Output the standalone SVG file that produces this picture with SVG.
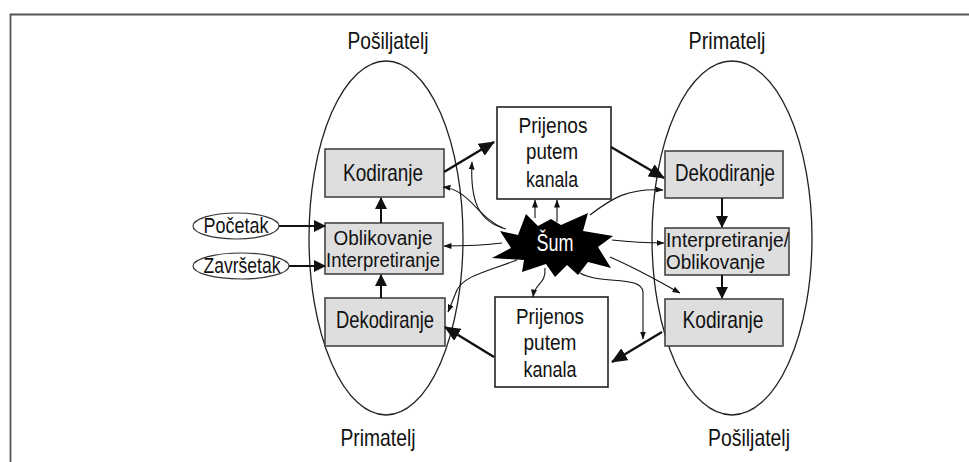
<svg xmlns="http://www.w3.org/2000/svg" width="969" height="462" viewBox="0 0 969 462">
<defs>
<style>
.t{font-family:"Liberation Sans Narrow","Arial Narrow","Liberation Sans",Arial,sans-serif;fill:#111;}
.box{fill:#dedede;stroke:#444;stroke-width:1.6;}
.wbox{fill:#fff;stroke:#222;stroke-width:1.6;}
.ell{fill:none;stroke:#222;stroke-width:1.3;}
.big{fill:none;stroke:#111;stroke-width:2.4;marker-end:url(#mb);}
.mid{fill:none;stroke:#111;stroke-width:2;marker-end:url(#mm);}
.thin{fill:none;stroke:#111;stroke-width:1.1;marker-end:url(#ms);}
</style>
<marker id="mb" viewBox="0 0 16 14" refX="15" refY="7" markerWidth="16" markerHeight="14" markerUnits="userSpaceOnUse" orient="auto"><path d="M0,0 L16,7 L0,14 z" fill="#111"/></marker>
<marker id="mm" viewBox="0 0 12 12" refX="11" refY="6" markerWidth="12" markerHeight="12" markerUnits="userSpaceOnUse" orient="auto"><path d="M0,0 L12,6 L0,12 z" fill="#111"/></marker>
<marker id="ms" viewBox="0 0 8 6" refX="7.5" refY="3" markerWidth="8" markerHeight="6" markerUnits="userSpaceOnUse" orient="auto"><path d="M0,0 L8,3 L0,6 z" fill="#111"/></marker>
</defs>
<rect width="969" height="462" fill="#fff"/>
<g id="frame" fill="none" stroke="#555" stroke-width="1.8">
<path d="M10.5,462 L10.5,14.5 L969,14.5"/>
</g>
<g id="sender-left">
<ellipse class="ell" cx="386" cy="238" rx="77" ry="177"/>
<text class="t" x="388" y="49" font-size="24" text-anchor="middle" textLength="81" lengthAdjust="spacingAndGlyphs">Pošiljatelj</text>
<text class="t" x="378" y="446" font-size="24" text-anchor="middle" textLength="75" lengthAdjust="spacingAndGlyphs">Primatelj</text>
</g>
<g id="receiver-right">
<ellipse class="ell" cx="732" cy="238" rx="80" ry="177"/>
<text class="t" x="727" y="49" font-size="24" text-anchor="middle" textLength="77" lengthAdjust="spacingAndGlyphs">Primatelj</text>
<text class="t" x="749" y="446" font-size="24" text-anchor="middle" textLength="82" lengthAdjust="spacingAndGlyphs">Pošiljatelj</text>
</g>
<g id="kodiranje-l">
<rect class="box" x="325" y="149" width="119" height="48"/>
<text class="t" x="383" y="181" font-size="24" text-anchor="middle" textLength="80" lengthAdjust="spacingAndGlyphs">Kodiranje</text>
</g>
<g id="oblikovanje-l">
<rect class="box" x="325" y="223" width="118" height="51"/>
<text class="t" x="383" y="245" font-size="20" text-anchor="middle" textLength="99" lengthAdjust="spacingAndGlyphs">Oblikovanje</text>
<text class="t" x="383" y="267" font-size="20" text-anchor="middle" textLength="114" lengthAdjust="spacingAndGlyphs">Interpretiranje</text>
</g>
<g id="dekodiranje-l">
<rect class="box" x="325" y="298" width="120" height="48"/>
<text class="t" x="385" y="328" font-size="24" text-anchor="middle" textLength="98" lengthAdjust="spacingAndGlyphs">Dekodiranje</text>
</g>
<g id="pocetak">
<ellipse cx="236" cy="226" rx="43" ry="13" fill="#fff" stroke="#333" stroke-width="1.2"/>
<text class="t" x="236" y="233" font-size="22" text-anchor="middle" textLength="65" lengthAdjust="spacingAndGlyphs">Početak</text>
</g>
<g id="zavrsetak">
<ellipse cx="241" cy="266" rx="48" ry="13" fill="#fff" stroke="#333" stroke-width="1.2"/>
<text class="t" x="242" y="273" font-size="22" text-anchor="middle" textLength="77" lengthAdjust="spacingAndGlyphs">Završetak</text>
</g>
<g id="prijenos-top">
<rect class="wbox" x="497" y="107" width="114" height="92"/>
<text class="t" x="553" y="133" font-size="22" text-anchor="middle" textLength="69" lengthAdjust="spacingAndGlyphs">Prijenos</text>
<text class="t" x="552" y="159" font-size="22" text-anchor="middle" textLength="52" lengthAdjust="spacingAndGlyphs">putem</text>
<text class="t" x="552" y="187" font-size="22" text-anchor="middle" textLength="52" lengthAdjust="spacingAndGlyphs">kanala</text>
</g>
<g id="prijenos-bottom">
<rect class="wbox" x="495" y="297" width="113" height="90"/>
<text class="t" x="550" y="324" font-size="22" text-anchor="middle" textLength="68" lengthAdjust="spacingAndGlyphs">Prijenos</text>
<text class="t" x="550" y="350" font-size="22" text-anchor="middle" textLength="53" lengthAdjust="spacingAndGlyphs">putem</text>
<text class="t" x="550" y="377" font-size="22" text-anchor="middle" textLength="53" lengthAdjust="spacingAndGlyphs">kanala</text>
</g>
<g id="dekodiranje-r">
<rect class="box" x="665" y="151" width="118" height="47"/>
<text class="t" x="725" y="181" font-size="24" text-anchor="middle" textLength="100" lengthAdjust="spacingAndGlyphs">Dekodiranje</text>
</g>
<g id="interpretiranje-r">
<rect class="box" x="665" y="228" width="124" height="47"/>
<text class="t" x="666" y="247" font-size="20" textLength="123" lengthAdjust="spacingAndGlyphs">Interpretiranje/</text>
<text class="t" x="666" y="269" font-size="20" textLength="99" lengthAdjust="spacingAndGlyphs">Oblikovanje</text>
</g>
<g id="kodiranje-r">
<rect class="box" x="665" y="299" width="118" height="47"/>
<text class="t" x="723" y="328" font-size="24" text-anchor="middle" textLength="81" lengthAdjust="spacingAndGlyphs">Kodiranje</text>
</g>
<g id="connectors">
<line class="mid" x1="279" y1="226" x2="325" y2="226"/>
<line class="mid" x1="289" y1="266" x2="325" y2="266"/>
<line class="mid" x1="381" y1="223" x2="381" y2="198"/>
<line class="mid" x1="381" y1="298" x2="381" y2="275"/>
<line class="mid" x1="722" y1="198" x2="722" y2="227"/>
<line class="mid" x1="722" y1="275" x2="722" y2="298"/>
<line class="big" x1="444" y1="172" x2="494" y2="142"/>
<line class="big" x1="611" y1="147" x2="664" y2="178"/>
<line class="big" x1="662" y1="332" x2="612" y2="362"/>
<line class="big" x1="494" y1="357" x2="445" y2="327"/>
<path class="thin" d="M503,228 C478,218 470,190 443,187"/>
<path class="thin" d="M506,229 C478,222 470,200 472,162"/>
<line class="thin" x1="535" y1="218" x2="535" y2="200"/>
<line class="thin" x1="557" y1="222" x2="557" y2="200"/>
<path class="thin" d="M590,215 C612,198 628,188 663,190"/>
<path class="thin" d="M502,243 C480,246 465,246 444,246"/>
<path class="thin" d="M612,240 C630,242 645,243 664,243"/>
<path class="thin" d="M610,257 C640,270 660,282 680,293"/>
<path class="thin" d="M580,273 C600,285 642,275 643,292 L643,339"/>
<path class="thin" d="M545,268 C546,285 535,282 533,297"/>
<path class="thin" d="M517,260 C485,272 464,276 457,290 L448,312"/>
</g>
<g id="sum">
<polygon fill="#000" points="500,231 518,235 526,214 538,226 551,219 561,225 588,213 583,231 613,236 598,247 611,268 588,262 578,275 567,265 555,277 546,264 522,272 524,260 492,258 511,248"/>
<text x="555" y="251" font-size="23" text-anchor="middle" textLength="37" lengthAdjust="spacingAndGlyphs" font-family="Liberation Sans Narrow,Arial Narrow,Liberation Sans,sans-serif" fill="#fff">Šum</text>
</g>
</svg>
